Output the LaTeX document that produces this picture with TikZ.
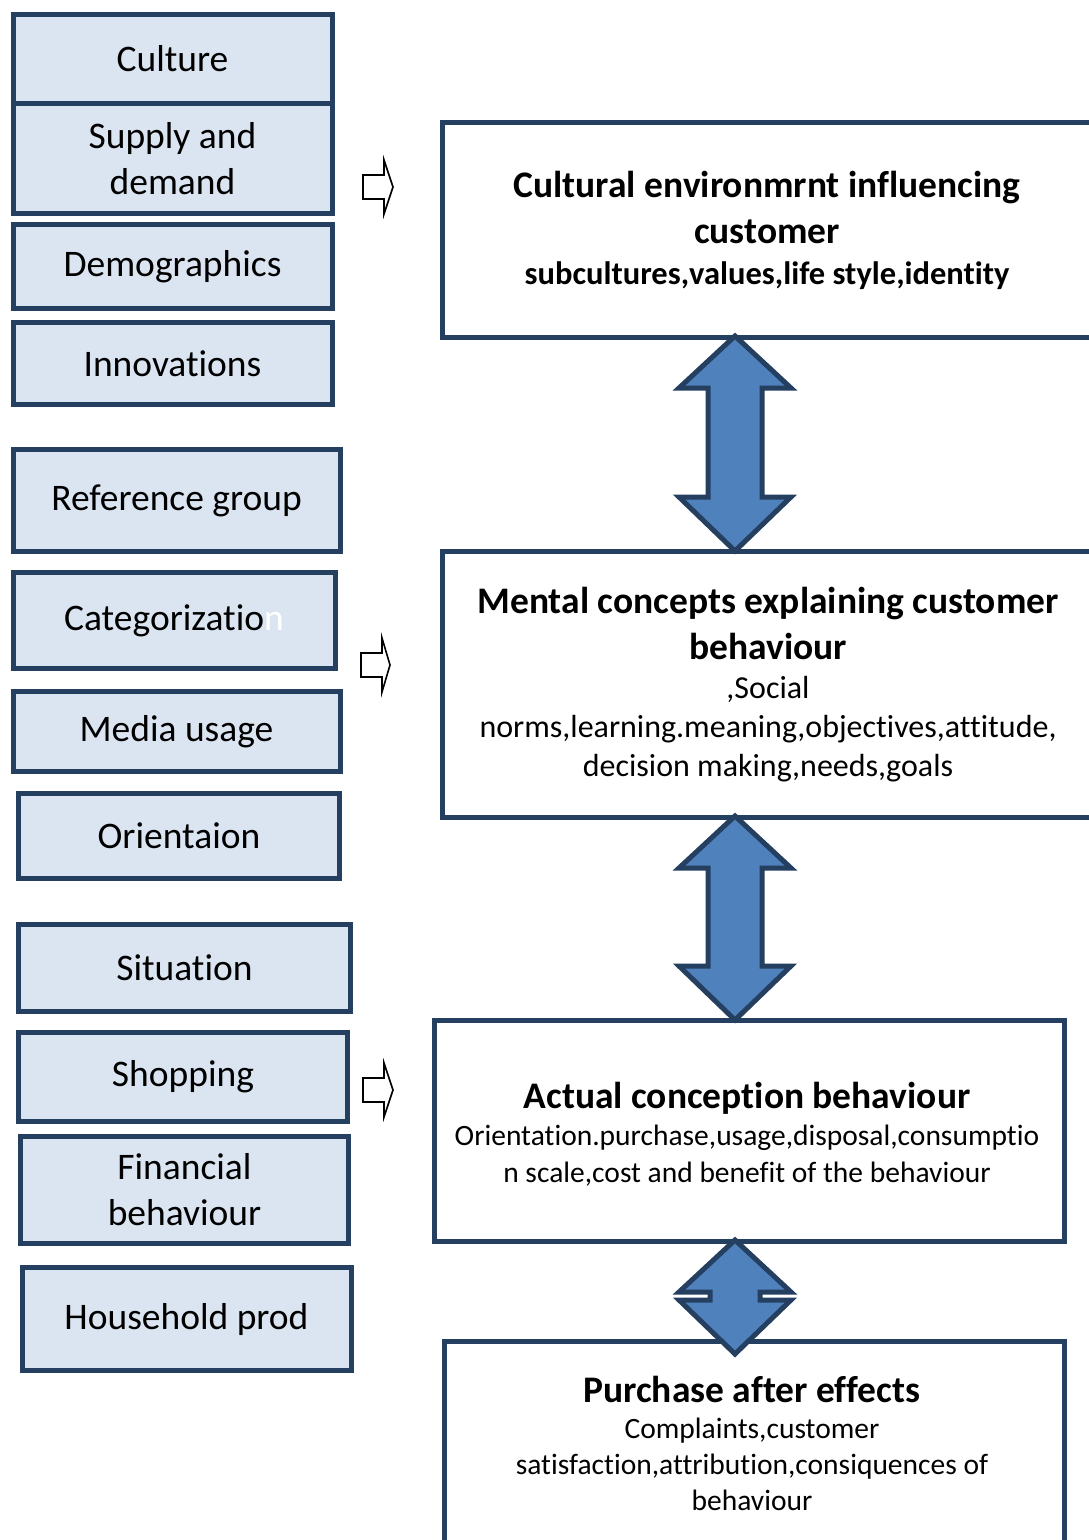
\documentclass[tikz,border=0pt]{standalone}
\usepackage{fontspec}
\setmainfont{Carlito}[Ligatures=NoCommon]
\newcommand{\stagetext}[1]{\parbox{630pt}{\centering #1}}
\begin{document}
\definecolor{navy}{RGB}{36,63,96}
\definecolor{paleblue}{RGB}{219,229,241}
\definecolor{arrowblue}{RGB}{79,129,189}
\begin{tikzpicture}[x=1pt,y=-1pt,
  leftbox/.style={draw=navy, line width=5pt, fill=paleblue, inner sep=0pt,
    anchor=north west, align=center,
    font=\fontsize{37.5}{46}\selectfont},
  mainbox/.style={draw=navy, line width=5pt, fill=white, inner sep=0pt,
    anchor=north west},
  boxtext/.style={anchor=center, inner sep=0pt},
  blockarrow/.style={draw=navy, line width=5pt, fill=arrowblue, line join=miter},
  hollowarrow/.style={draw=black, line width=1.6pt, fill=white, line join=miter}]
\useasboundingbox (0,0) rectangle (1088,1540);

% left column of factor boxes
\node[leftbox, minimum width=319, minimum height=89] (culture) at (10.5,12) {Culture};
\node[leftbox, minimum width=319, minimum height=110] (supply) at (10.5,101) {Supply and\\demand};
\node[leftbox, minimum width=319, minimum height=84] (demo) at (10.5,222) {Demographics};
\node[leftbox, minimum width=319, minimum height=82] (innov) at (10.5,320) {Innovations};

\node[leftbox, minimum width=327, minimum height=102] (refgroup) at (10.5,447) {Reference group};
\node[leftbox, minimum width=322, minimum height=96] (categ) at (10.5,570) {Categorizatio\textcolor{white}{n}};
\node[leftbox, minimum width=327, minimum height=80] (media) at (10.5,689) {Media usage};
\node[leftbox, minimum width=321, minimum height=85] (orient) at (16,791) {Orientaion};

\node[leftbox, minimum width=332, minimum height=87] (situation) at (16,922) {Situation};
\node[leftbox, minimum width=329, minimum height=89] (shopping) at (16,1030) {Shopping};
\node[leftbox, minimum width=328, minimum height=107] (financial) at (18,1134) {Financial\\behaviour};
\node[leftbox, minimum width=329, minimum height=103] (household) at (19.5,1265) {Household prod};

% right column of stage boxes
\node[mainbox, minimum width=649, minimum height=215] (cultural) at (439.5,119.5) {};
\node[boxtext] (culturaltxt) at (767,230) {\stagetext{%
  {\fontsize{37.5}{46}\selectfont\bfseries Cultural environmrnt influencing\\customer\par}
  {\fontsize{32.5}{41}\selectfont\bfseries subcultures,values,life style,identity\par}}};

\node[mainbox, minimum width=649, minimum height=266] (mental) at (439.5,548.5) {};
\node[boxtext] (mentaltxt) at (768,685) {\stagetext{%
  {\fontsize{37.5}{46}\selectfont\bfseries Mental concepts explaining customer\\behaviour\par}
  {\fontsize{32}{39}\selectfont ,Social\\norms,learning.meaning,objectives,attitude,\\decision making,needs,goals\par}}};

\node[mainbox, minimum width=630, minimum height=221] (actual) at (431.5,1018) {};
\node[boxtext] (actualtxt) at (747,1134) {\stagetext{%
  {\fontsize{37.5}{46}\selectfont\bfseries Actual conception behaviour\par}
  {\fontsize{29.5}{37}\selectfont Orientation.purchase,usage,disposal,consumptio\\n scale,cost and benefit of the behaviour\par}}};

\node[mainbox, minimum width=620, minimum height=230] (after) at (441.5,1339) {};
\node[boxtext] (aftertxt) at (752,1443) {\stagetext{%
  {\fontsize{37.5}{46}\selectfont\bfseries Purchase after effects\par}
  {\fontsize{29.5}{36}\selectfont Complaints,customer\\satisfaction,attribution,consiquences of\\behaviour\par}}};

% two-headed block arrows between the stages
\draw[blockarrow] (735,336) -- (791,388) -- (762,388) -- (762,497) -- (791,497)
  -- (735,551) -- (679,497) -- (708,497) -- (708,388) -- (679,388) -- cycle;
\draw[blockarrow] (735,816) -- (791,868) -- (762,868) -- (762,966) -- (791,966)
  -- (735,1020) -- (679,966) -- (708,966) -- (708,868) -- (679,868) -- cycle;
\draw[blockarrow] (735,1240) -- (791,1292) -- (760,1292) -- (760,1300) -- (791,1300)
  -- (735,1354) -- (679,1300) -- (710,1300) -- (710,1292) -- (679,1292) -- cycle;

% small outline arrows pointing from each factor group to its stage
\draw[hollowarrow] (363,175) -- (384,175) -- (384,160) -- (393,187) -- (384,214)
  -- (384,199) -- (363,199) -- cycle;
\draw[hollowarrow] (361,653) -- (382,653) -- (382,638) -- (390,665) -- (382,692)
  -- (382,677) -- (361,677) -- cycle;
\draw[hollowarrow] (363,1078) -- (384,1078) -- (384,1063) -- (393,1090) -- (384,1117)
  -- (384,1102) -- (363,1102) -- cycle;
\end{tikzpicture}
\end{document}
